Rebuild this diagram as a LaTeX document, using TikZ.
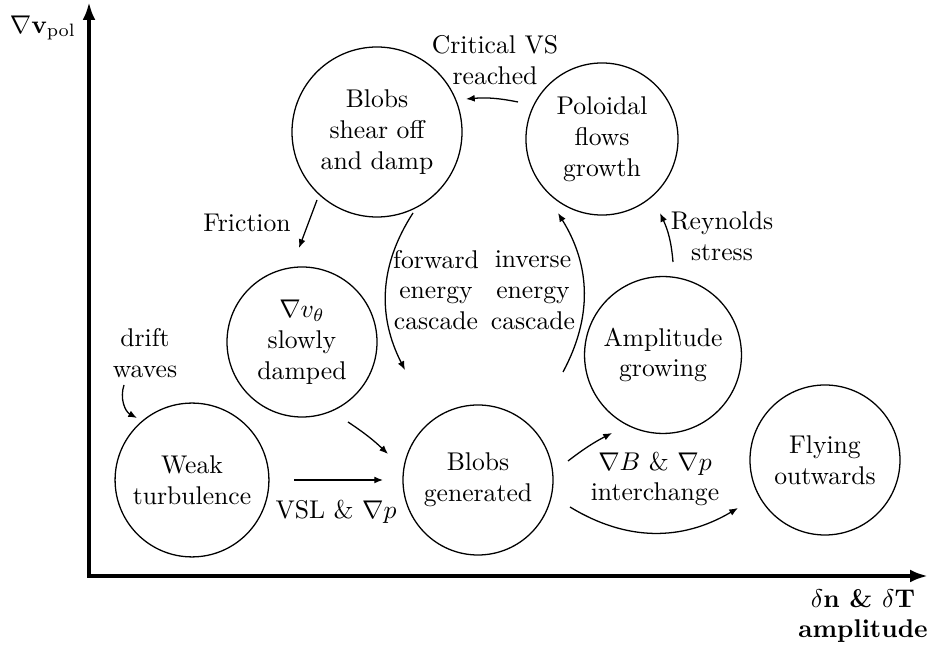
\documentclass[tikz,border=0pt]{standalone}
\usepackage{amsmath,amssymb}
\usetikzlibrary{arrows.meta}
\begin{document}
\begin{tikzpicture}[x=0.39pt,y=-0.39pt,
  state/.style={draw, circle, inner sep=0pt, align=center, line width=0.5pt},
  lbl/.style={align=center, inner sep=0pt},
  conn/.style={-{Latex[length=3.4pt,width=2.7pt]}, line width=0.5pt},
  axis/.style={line width=1.5pt, -{Latex[length=7pt,width=5pt]}}]
\useasboundingbox (0,0) rectangle (934,650);
% axes
\coordinate (O) at (89,576);
\coordinate (ytop) at (89,2);
\coordinate (xend) at (928,576);
\draw[axis] ([yshift=-0.75pt]O) -- (ytop);
\draw[axis] ([xshift=-0.75pt]O) -- (xend);
\node[lbl] (ylab) at (43,28) {$\nabla\mathbf{v}_{\mathrm{pol}}$};
\node[lbl] (xlab) at (863,616) {\bfseries $\delta\mathbf{n}$ \& $\delta\mathbf{T}$\\ \bfseries amplitude};
% states
\node[state, minimum size=66.3pt] (shear) at (377,132) {Blobs\\shear off\\and damp};
\node[state, minimum size=59.3pt] (pol) at (602,139) {Poloidal\\flows\\growth};
\node[state, minimum size=58.5pt] (vth) at (302,342) {$\nabla v_\theta$\\slowly\\damped};
\node[state, minimum size=60pt] (weak) at (192,480) {Weak\\turbulence};
\node[state, minimum size=58.5pt] (gen) at (478,480) {Blobs\\generated};
\node[state, minimum size=61.2pt] (amp) at (663,355) {Amplitude\\growing};
\node[state, minimum size=58.5pt] (fly) at (825,460) {Flying\\outwards};
% labels
\node[lbl] (lcrit) at (495,60) {Critical VS\\reached};
\node[lbl] (lfric) at (247,223) {Friction};
\node[lbl] (lfwd) at (436,290) {forward\\energy\\cascade};
\node[lbl] (linv) at (533,290) {inverse\\energy\\cascade};
\node[lbl] (lrey) at (722,236) {Reynolds\\stress};
\node[lbl] (ldrift) at (145,353) {drift\\waves};
\node[lbl] (lvsl) at (336,512) {VSL \& $\nabla p$};
\node[lbl] (linter) at (655,479) {$\nabla B$ \& $\nabla p$\\interchange};
% connectors
\draw[conn] ([shift={(-84,-37)}]pol.center) to[bend right=8] ([shift={(89,-33)}]shear.center);
\draw[conn] ([shift={(-60,68)}]shear.center) -- ([shift={(-3,-94)}]vth.center);
\draw[conn] ([shift={(36,81)}]shear.center) to[bend right=30] ([shift={(-73,-110)}]gen.center);
\draw[conn] ([shift={(-100,17)}]amp.center) to[bend right=30] ([shift={(-44,74)}]pol.center);
\draw[conn] ([shift={(10,-93)}]amp.center) to[bend right=10] ([shift={(58,74)}]pol.center);
\draw[conn] ([shift={(-68,-95)}]weak.center) to[bend right=40] ([shift={(-55,-62)}]weak.center);
\draw[conn] ([shift={(46,80)}]vth.center) to[bend left=5] ([shift={(-90,-26)}]gen.center);
\draw[conn] ([shift={(102,0)}]weak.center) -- ([shift={(-95,0)}]gen.center);
\draw[conn] ([shift={(90,-19)}]gen.center) to[bend left=5] ([shift={(-51,78)}]amp.center);
\draw[conn] ([shift={(92,27)}]gen.center) to[bend right=31] ([shift={(-87,48)}]fly.center);
\end{tikzpicture}
\end{document}
